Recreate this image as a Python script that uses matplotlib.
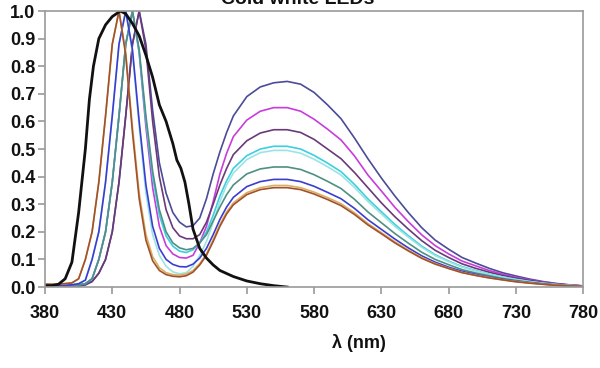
import matplotlib
matplotlib.use("Agg")
import matplotlib.pyplot as plt
from matplotlib.ticker import FormatStrFormatter

title = "Cold white LEDs"
xlabel = "λ (nm)"
x_ticks = [380, 430, 480, 530, 580, 630, 680, 730, 780]
y_ticks = [0.0, 0.1, 0.2, 0.3, 0.4, 0.5, 0.6, 0.7, 0.8, 0.9, 1.0]

# wavelength grid of the white LED spectra
wl = [380, 390, 400, 405, 410, 415, 420, 425, 430, 435, 440, 445, 450, 455, 460,
      465, 470, 475, 480, 485, 490, 495, 500, 505, 510, 515, 520, 530, 540, 550,
      560, 570, 580, 590, 600, 610, 620, 630, 640, 650, 660, 670, 680, 690, 700,
      710, 720, 730, 740, 750, 760, 770, 780]

navy = [0.0, 0.0, 0.005, 0.003, 0.008, 0.02, 0.05, 0.10, 0.20, 0.38, 0.62, 0.88, 1.0, 0.88, 0.64,
        0.45, 0.34, 0.27, 0.235, 0.218, 0.222, 0.25, 0.32, 0.41, 0.49, 0.56, 0.62, 0.69, 0.725, 0.74,
        0.745, 0.735, 0.705, 0.66, 0.61, 0.54, 0.465, 0.395, 0.33, 0.27, 0.215, 0.17, 0.137, 0.107, 0.087,
        0.068, 0.052, 0.04, 0.029, 0.02, 0.013, 0.008, 0.004]
magenta = [0.005, 0.005, 0.005, 0.008, 0.012, 0.03, 0.10, 0.20, 0.38, 0.62, 0.88, 1.0, 0.85, 0.58, 0.36,
           0.22, 0.15, 0.12, 0.107, 0.105, 0.115, 0.16, 0.22, 0.31, 0.41, 0.485, 0.545, 0.605, 0.637, 0.65,
           0.65, 0.637, 0.608, 0.572, 0.533, 0.475, 0.406, 0.348, 0.289, 0.237, 0.189, 0.15, 0.12, 0.094, 0.077,
           0.06, 0.047, 0.035, 0.026, 0.018, 0.012, 0.007, 0.004]
purple = [0.005, 0.005, 0.005, 0.005, 0.008, 0.02, 0.05, 0.10, 0.20, 0.38, 0.62, 0.88, 1.0, 0.86, 0.60,
          0.40, 0.28, 0.215, 0.185, 0.175, 0.175, 0.19, 0.235, 0.30, 0.37, 0.43, 0.48, 0.53, 0.558, 0.57,
          0.57, 0.56, 0.535, 0.50, 0.465, 0.415, 0.36, 0.305, 0.255, 0.21, 0.168, 0.133, 0.107, 0.084, 0.068,
          0.054, 0.042, 0.032, 0.024, 0.017, 0.011, 0.007, 0.004]
cyan = [0.005, 0.005, 0.008, 0.008, 0.012, 0.03, 0.10, 0.20, 0.38, 0.62, 0.88, 1.0, 0.85, 0.60, 0.40,
        0.26, 0.185, 0.148, 0.13, 0.125, 0.135, 0.16, 0.20, 0.26, 0.33, 0.385, 0.43, 0.476, 0.50, 0.51,
        0.51, 0.50, 0.477, 0.449, 0.418, 0.372, 0.319, 0.273, 0.227, 0.186, 0.148, 0.117, 0.094, 0.074, 0.06,
        0.047, 0.037, 0.028, 0.02, 0.014, 0.009, 0.006, 0.003]
light_cyan = [0.01, 0.008, 0.01, 0.012, 0.025, 0.10, 0.20, 0.38, 0.62, 0.88, 1.0, 0.85, 0.58, 0.34, 0.19,
              0.115, 0.075, 0.055, 0.048, 0.052, 0.075, 0.115, 0.165, 0.235, 0.31, 0.37, 0.413, 0.462, 0.487, 0.495,
              0.495, 0.485, 0.463, 0.436, 0.406, 0.361, 0.31, 0.265, 0.22, 0.181, 0.144, 0.114, 0.092, 0.072, 0.058,
              0.046, 0.036, 0.027, 0.02, 0.014, 0.009, 0.006, 0.003]
teal = [0.005, 0.005, 0.008, 0.008, 0.012, 0.03, 0.10, 0.20, 0.38, 0.62, 0.88, 1.0, 0.86, 0.62, 0.42,
        0.28, 0.20, 0.16, 0.142, 0.135, 0.14, 0.16, 0.19, 0.24, 0.29, 0.335, 0.37, 0.41, 0.428, 0.435,
        0.435, 0.426, 0.407, 0.383, 0.357, 0.318, 0.272, 0.233, 0.194, 0.159, 0.126, 0.10, 0.081, 0.063, 0.051,
        0.041, 0.031, 0.024, 0.017, 0.012, 0.008, 0.005, 0.003]
blue = [0.01, 0.005, 0.008, 0.012, 0.025, 0.10, 0.20, 0.38, 0.62, 0.88, 1.0, 0.86, 0.60, 0.37, 0.22,
        0.14, 0.10, 0.082, 0.074, 0.073, 0.083, 0.105, 0.14, 0.19, 0.245, 0.29, 0.325, 0.364, 0.382, 0.39,
        0.39, 0.382, 0.365, 0.343, 0.32, 0.285, 0.244, 0.209, 0.174, 0.142, 0.113, 0.09, 0.072, 0.057, 0.046,
        0.036, 0.028, 0.021, 0.016, 0.011, 0.007, 0.004, 0.002]
orange = [0.01, 0.01, 0.015, 0.03, 0.10, 0.20, 0.38, 0.62, 0.88, 1.0, 0.85, 0.58, 0.34, 0.19, 0.11,
          0.07, 0.052, 0.045, 0.043, 0.047, 0.06, 0.085, 0.12, 0.172, 0.227, 0.272, 0.305, 0.342, 0.36, 0.368,
          0.368, 0.36, 0.344, 0.324, 0.302, 0.269, 0.23, 0.197, 0.164, 0.134, 0.107, 0.085, 0.068, 0.053, 0.043,
          0.034, 0.026, 0.02, 0.015, 0.01, 0.007, 0.004, 0.002]
brown = [0.01, 0.01, 0.015, 0.03, 0.10, 0.20, 0.38, 0.62, 0.88, 1.0, 0.84, 0.56, 0.32, 0.17, 0.095,
         0.06, 0.045, 0.039, 0.037, 0.041, 0.054, 0.08, 0.115, 0.165, 0.22, 0.265, 0.298, 0.335, 0.353, 0.36,
         0.36, 0.353, 0.337, 0.317, 0.295, 0.263, 0.225, 0.193, 0.16, 0.131, 0.104, 0.083, 0.067, 0.052, 0.042,
         0.033, 0.026, 0.019, 0.014, 0.01, 0.006, 0.004, 0.002]

# reference blue LED (black curve)
wl_black = [380, 385, 390, 395, 400, 405, 410, 413, 416, 420, 425, 430, 436, 440, 445, 450, 455, 460,
            465, 470, 475, 478, 481, 484, 487, 490, 495, 500, 505, 510, 520, 530, 540, 550, 560]
black = [0.005, 0.005, 0.01, 0.03, 0.09, 0.27, 0.5, 0.68, 0.8, 0.9, 0.95, 0.98, 1.0, 0.99, 0.955, 0.91,
         0.84, 0.76, 0.66, 0.60, 0.52, 0.46, 0.43, 0.38, 0.30, 0.21, 0.14, 0.105, 0.08, 0.06, 0.038,
         0.022, 0.012, 0.005, 0.0]

series = [
    (navy, "#4b4b98"),
    (magenta, "#c83cdc"),
    (purple, "#6a3a78"),
    (cyan, "#3ccfe0"),
    (light_cyan, "#9be4e4"),
    (teal, "#4f8f84"),
    (blue, "#3c3cd2"),
    (orange, "#dcae62"),
    (brown, "#a0522d"),
]

plt.rcParams['font.family'] = ['Liberation Sans', 'DejaVu Sans']
fig = plt.figure(figsize=(6.0, 3.68), dpi=100)
ax = fig.add_axes([0.075, 0.22, 0.897, 0.75])

for vals, col in series:
    ax.plot(wl, vals, color=col, lw=1.2)
ax.plot(wl_black, black, color="#111111", lw=2.0)

ax.set_xlim(380, 780)
ax.set_ylim(0, 1.0)
ax.set_xticks(x_ticks)
ax.set_yticks(y_ticks)
ax.yaxis.set_major_formatter(FormatStrFormatter('%.1f'))
for s in ax.spines.values():
    s.set_color('#9a9a9a')
    s.set_linewidth(1.2)
ax.tick_params(axis='both', colors='#9a9a9a', length=5, width=1.2, direction='out',
               labelcolor='#111111', labelsize=13)
for lab in ax.get_xticklabels() + ax.get_yticklabels():
    lab.set_fontweight('bold')
ax.tick_params(axis='x', pad=8)
ax.tick_params(axis='y', pad=2)

fig.text(359 / 600, 1 - 343 / 368, xlabel, ha='center', va='center',
         fontsize=13, fontweight='bold', color='#111111')
fig.text(298 / 600, 1 - 4 / 368, title, ha='center', va='baseline',
         fontsize=14, fontweight='bold', color='#111111')

fig.savefig("out.png", dpi=100, facecolor='white')
